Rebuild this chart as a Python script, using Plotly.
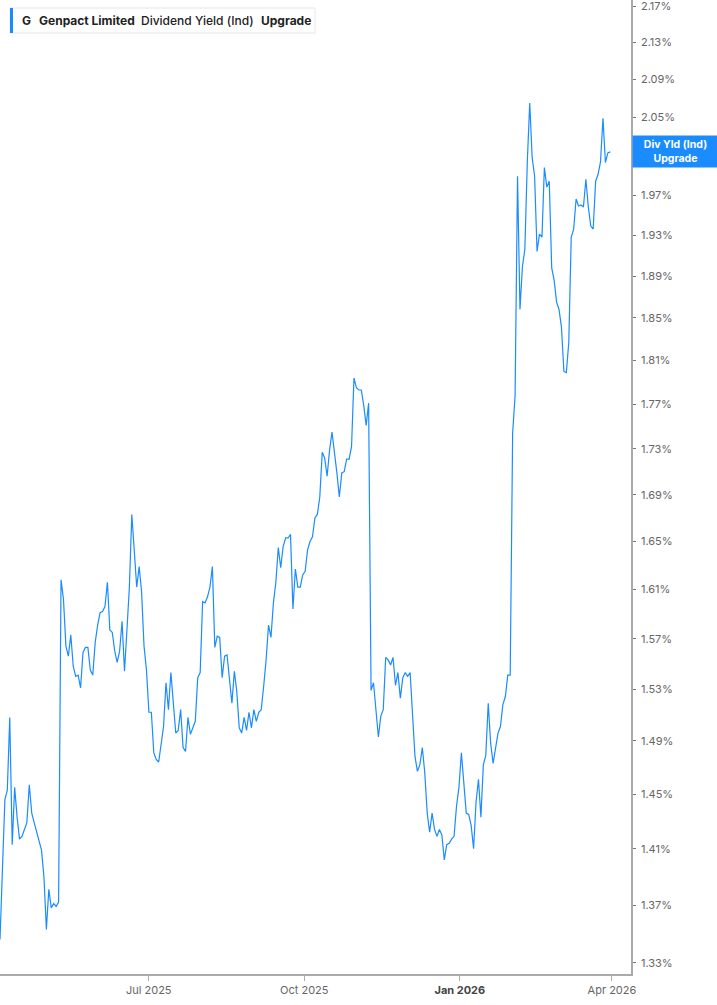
import numpy as np
import pandas as pd
import plotly.graph_objects as go

# Genpact Limited - Dividend Yield (Ind), daily readings (percent)
start_date = "2025-04-04"
end_date = "2026-03-31"

div_yield = [
    1.346, 1.395, 1.446, 1.453, 1.508, 1.413, 1.455, 1.433, 1.417, 1.419,
    1.424, 1.429, 1.457, 1.436, 1.429, 1.422, 1.414, 1.409, 1.390, 1.353,
    1.381, 1.368, 1.371, 1.369, 1.372, 1.618, 1.602, 1.564, 1.556, 1.573,
    1.548, 1.540, 1.541, 1.531, 1.559, 1.563, 1.563, 1.545, 1.541, 1.567,
    1.581, 1.591, 1.592, 1.596, 1.616, 1.577, 1.575, 1.560, 1.551, 1.560,
    1.584, 1.544, 1.577, 1.612, 1.673, 1.638, 1.612, 1.629, 1.608, 1.564,
    1.545, 1.512, 1.512, 1.481, 1.476, 1.474, 1.488, 1.501, 1.535, 1.514,
    1.543, 1.517, 1.496, 1.498, 1.514, 1.485, 1.482, 1.508, 1.495, 1.500,
    1.505, 1.539, 1.543, 1.600, 1.599, 1.604, 1.612, 1.629, 1.563, 1.572,
    1.571, 1.539, 1.556, 1.557, 1.540, 1.519, 1.544, 1.528, 1.500, 1.496,
    1.508, 1.498, 1.512, 1.500, 1.514, 1.505, 1.512, 1.514, 1.532, 1.553,
    1.581, 1.571, 1.599, 1.616, 1.645, 1.628, 1.646, 1.653, 1.653, 1.656,
    1.594, 1.627, 1.612, 1.612, 1.622, 1.625, 1.643, 1.650, 1.654, 1.670,
    1.673, 1.688, 1.727, 1.722, 1.706, 1.729, 1.745, 1.729, 1.709, 1.688,
    1.709, 1.710, 1.721, 1.721, 1.732, 1.794, 1.785, 1.783, 1.783, 1.769,
    1.751, 1.771, 1.529, 1.535, 1.514, 1.493, 1.509, 1.514, 1.555, 1.553,
    1.549, 1.555, 1.533, 1.543, 1.523, 1.539, 1.543, 1.540, 1.543, 1.506,
    1.478, 1.467, 1.472, 1.485, 1.466, 1.436, 1.422, 1.436, 1.424, 1.419,
    1.424, 1.420, 1.402, 1.413, 1.414, 1.417, 1.419, 1.441, 1.455, 1.481,
    1.458, 1.436, 1.435, 1.427, 1.410, 1.444, 1.461, 1.433, 1.472, 1.479,
    1.519, 1.488, 1.473, 1.485, 1.496, 1.501, 1.518, 1.524, 1.541, 1.541,
    1.744, 1.778, 1.989, 1.858, 1.899, 1.916, 2.003, 2.065, 2.008, 1.989,
    1.914, 1.931, 1.928, 1.998, 1.978, 1.984, 1.898, 1.886, 1.865, 1.858,
    1.841, 1.800, 1.799, 1.827, 1.928, 1.936, 1.966, 1.959, 1.960, 1.958,
    1.986, 1.958, 1.939, 1.936, 1.984, 1.991, 2.004, 2.049, 2.003, 2.013,
    2.014,
]

y_ticks = [1.33, 1.37, 1.41, 1.45, 1.49, 1.53, 1.57, 1.61, 1.65, 1.69, 1.73,
           1.77, 1.81, 1.85, 1.89, 1.93, 1.97, 2.01, 2.05, 2.09, 2.13, 2.17]
y_tick_labels = [f"{v:.2f}%" for v in y_ticks]

x_ticks = ["2025-07-01", "2025-10-01", "2026-01-01", "2026-04-01"]
x_tick_labels = ["Jul 2025", "Oct 2025",
                 "<b><span style='color:#444'>Jan 2026</span></b>", "Apr 2026"]

dates = pd.date_range(start_date, end_date, periods=len(div_yield))

BLUE = "#1a8cff"
W, H = 717, 1005
ML, MR, MT, MB = 0, 86, 0, 31
PW, PH = W - ML - MR, H - MT - MB


def px(x):
    return x / PW


def py(y):
    return 1 - y / PH


fig = go.Figure()
fig.add_trace(go.Scatter(x=dates, y=div_yield, mode="lines",
                         line=dict(color=BLUE, width=1.2),
                         hoverinfo="x+y", showlegend=False))

fig.update_layout(
    width=W, height=H,
    margin=dict(l=ML, r=MR, t=MT, b=MB),
    paper_bgcolor="white", plot_bgcolor="white",
    font=dict(family="Inter, Roboto, sans-serif", size=11, color="#666"),
    xaxis=dict(
        range=["2025-04-04", "2026-04-12 06:00"],
        tickvals=x_ticks, ticktext=x_tick_labels,
        showgrid=False, zeroline=False,
        showline=True, linecolor="#aaa", linewidth=1.5,
        ticks="outside", ticklen=5, tickcolor="#aaa",
        tickfont=dict(size=11, color="#666"),
    ),
    yaxis=dict(
        type="log", side="right",
        range=[np.log10(1.3225), np.log10(2.1767)],
        tickvals=y_ticks, ticktext=y_tick_labels,
        showgrid=False, zeroline=False,
        showline=True, linecolor="#aaa", linewidth=1.5,
        ticks="outside", ticklen=3, tickcolor="#777",
        tickfont=dict(size=11, color="#666"),
        ticklabelstandoff=3, ticklabeloverflow="allow",
    ),
)

# legend-like header box
fig.add_shape(type="rect", xref="paper", yref="paper",
              x0=px(10), x1=px(315), y0=py(33), y1=py(8),
              line=dict(color="#e6e6e6", width=1), fillcolor="white")
fig.add_shape(type="rect", xref="paper", yref="paper",
              x0=px(10), x1=px(13), y0=py(33), y1=py(8),
              line=dict(width=0), fillcolor=BLUE)

header = [
    (20, "<b>G</b>", 700),
    (37, "<b>Genpact Limited</b>", 700),
    (139, "Dividend Yield (Ind)", 500),
    (259, "<b>Upgrade</b>", 700),
]
for hx, txt, wt in header:
    fig.add_annotation(x=px(hx), y=py(20.5), xref="paper", yref="paper",
                       xanchor="left", yanchor="middle", showarrow=False,
                       text=txt,
                       font=dict(family="Inter, sans-serif", size=12,
                                 color="#222", weight=wt))

# last value label on the right axis (covers the 2.01% tick like the original)
fig.add_annotation(x=1, y=np.log10(div_yield[-1]), xref="paper", yref="y",
                   xanchor="left", yanchor="middle", xshift=1,
                   showarrow=False, align="center",
                   text="<b>Div Yld (Ind)<br>Upgrade</b>",
                   bgcolor=BLUE, borderpad=2, width=81,
                   font=dict(family="Inter, sans-serif", size=10.5,
                             color="white"))

fig.write_html("out.html",
               config={"displayModeBar": False},
               post_script="document.body.style.margin='0';"
                           "document.documentElement.style.overflow='hidden';")
